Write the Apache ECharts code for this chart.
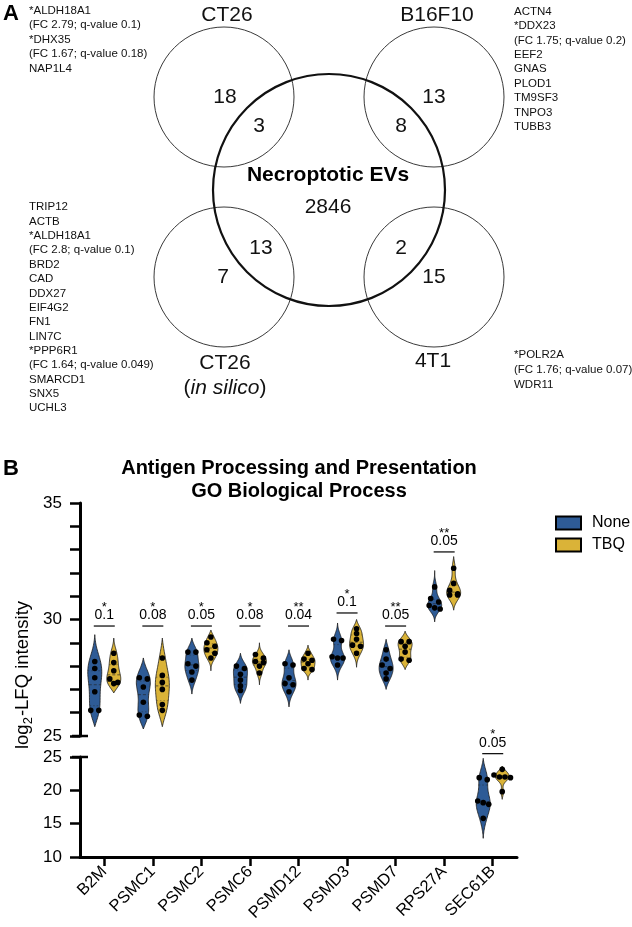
<!DOCTYPE html>
<html><head><meta charset="utf-8">
<script src="https://cdn.jsdelivr.net/npm/echarts@6/dist/echarts.min.js"></script>
<style>html,body{margin:0;padding:0;background:#fff}#c{width:632px;height:927px}</style>
</head><body><div id="c"></div>
<script>
// ---------------- Panel A data ----------------
const vennSetNames = ['CT26', 'B16F10', 'CT26', '4T1'];
const vennOnlyCounts = [18, 13, 7, 15];
const vennSharedCounts = [3, 8, 13, 2];
const vennCenterName = 'Necroptotic EVs';
const vennCenterCount = 2846;
const genesTopLeft = ['*ALDH18A1', '(FC 2.79; q-value 0.1)', '*DHX35', '(FC 1.67; q-value 0.18)', 'NAP1L4'];
const genesTopRight = ['ACTN4', '*DDX23', '(FC 1.75; q-value 0.2)', 'EEF2', 'GNAS', 'PLOD1', 'TM9SF3', 'TNPO3', 'TUBB3'];
const genesBottomLeft = ['TRIP12', 'ACTB', '*ALDH18A1', '(FC 2.8; q-value 0.1)', 'BRD2', 'CAD', 'DDX27', 'EIF4G2', 'FN1', 'LIN7C', '*PPP6R1', '(FC 1.64; q-value 0.049)', 'SMARCD1', 'SNX5', 'UCHL3'];
const genesBottomRight = ['*POLR2A', '(FC 1.76; q-value 0.07)', 'WDR11'];

// ---------------- Panel B data ----------------
const categories = ['B2M', 'PSMC1', 'PSMC2', 'PSMC6', 'PSMD12', 'PSMD3', 'PSMD7', 'RPS27A', 'SEC61B'];
const groupNames = ['None', 'TBQ'];
const noneValues = [
  [28.2, 27.9, 27.5, 26.9, 26.1, 26.1],
  [27.5, 27.45, 27.1, 26.45, 25.9, 25.85],
  [28.6, 28.6, 28.1, 28.0, 27.75, 27.4],
  [28.0, 27.9, 27.65, 27.4, 27.15, 26.95],
  [28.1, 28.05, 27.5, 27.25, 27.2, 26.9],
  [29.15, 29.1, 28.4, 28.35, 28.35, 28.05],
  [28.7, 28.3, 28.05, 27.9, 27.7, 27.45],
  [31.4, 30.9, 30.75, 30.6, 30.5, 30.45],
  [21.9, 21.6, 18.4, 18.15, 17.9, 15.8]
];
const noneExtent = [[25.4, 29.35], [25.3, 28.35], [26.8, 29.2], [26.4, 28.55], [26.25, 28.7], [27.4, 29.85], [27.0, 29.15], [29.9, 32.1], [12.8, 24.8]];
const tbqValues = [
  [28.55, 28.15, 27.8, 27.45, 27.3, 27.25],
  [28.35, 27.6, 27.3, 27.0, 26.35, 26.1],
  [29.25, 29.0, 28.85, 28.7, 28.55, 28.35],
  [28.5, 28.35, 28.2, 28.15, 28.0, 27.7],
  [28.55, 28.3, 28.25, 28.1, 27.9, 27.85],
  [29.6, 29.4, 29.15, 28.9, 28.85, 28.55],
  [29.05, 29.05, 28.85, 28.6, 28.3, 28.25],
  [32.2, 31.55, 31.25, 31.1, 31.05, 31.05],
  [23.15, 22.3, 22.0, 22.0, 21.9, 19.8]
];
const tbqExtent = [[26.85, 29.2], [25.4, 29.2], [27.8, 29.55], [27.2, 29.0], [27.4, 28.9], [27.95, 30.0], [27.85, 29.5], [30.4, 32.7], [18.65, 23.65]];
const sigStars = ['*', '*', '*', '*', '**', '*', '**', '**', '*'];
const qLabels = ['0.1', '0.08', '0.05', '0.08', '0.04', '0.1', '0.05', '0.05', '0.05'];
const bracketLevel = [29.72, 29.72, 29.72, 29.72, 29.72, 30.28, 29.72, 32.9, 25.5];
const upperTicks = [25, 30, 35];
const lowerTicks = [10, 15, 20, 25];

// ---------------- styling ----------------
const FONT = '"Liberation Sans", Arial, Helvetica, sans-serif';
const BLUE = '#2e5b96';
const GOLD = '#dab338';
const HALF = 7;      // violin max half width (px)
const DX = 9.5;      // group offset from category center (px)
const GRID_LEFT = 80, GRID_RIGHT = 115;

const chart = echarts.init(document.getElementById('c'), null, {renderer: 'canvas'});

function kde(vals, h, y) {
  let s = 0;
  for (const v of vals) { const u = (y - v) / h; s += Math.exp(-0.5 * u * u); }
  return s;
}
function bandwidth(vals) {
  const n = vals.length, m = vals.reduce((a, b) => a + b, 0) / n;
  const sd = Math.sqrt(vals.reduce((a, b) => a + (b - m) * (b - m), 0) / (n - 1));
  return Math.max(0.9 * sd * Math.pow(n, -0.2), 0.12);
}
function quantile(sorted, p) {
  const i = (sorted.length - 1) * p, lo = Math.floor(i), hi = Math.ceil(i);
  return sorted[lo] + (sorted[hi] - sorted[lo]) * (i - lo);
}
const inLower = categories.map((c, i) => Math.max(noneExtent[i][1], tbqExtent[i][1]) <= 25);

function makeViolin(vals, ext, dx, color) {
  return function (params, api) {
    const cat = api.value(0);
    const v = vals[cat], r = ext[cat];
    const cx = api.coord([cat, r[0]])[0] + dx;
    const h = bandwidth(v);
    const N = 60, dens = [];
    for (let i = 0; i <= N; i++) { const y = r[0] + (r[1] - r[0]) * i / N; dens.push([y, kde(v, h, y)]); }
    const f0 = dens[0][1], f1 = dens[N][1];
    let mx = 0;
    const w = dens.map(([y, f], i) => { const b = f0 + (f1 - f0) * i / N; const ww = Math.max(0, f - b); if (ww > mx) mx = ww; return [y, ww]; });
    const right = w.map(([y, ww]) => [cx + ww / mx * HALF, api.coord([cat, y])[1]]);
    const left = w.slice().reverse().map(([y, ww]) => [cx - ww / mx * HALF, api.coord([cat, y])[1]]);
    const children = [{
      type: 'polygon', shape: {points: right.concat(left)},
      style: {fill: color, stroke: '#1a1a1a', lineWidth: 0.8}
    }];
    const sorted = v.slice().sort((a, b) => a - b);
    function widthAt(y) {
      const t = (y - r[0]) / (r[1] - r[0]) * N; const i = Math.max(0, Math.min(N - 1, Math.floor(t)));
      const ww = w[i][1] + (w[i + 1][1] - w[i][1]) * (t - i);
      return ww / mx * HALF;
    }
    [[0.25, [1.5, 2]], [0.5, [3, 2]], [0.75, [1.5, 2]]].forEach(([p, dash]) => {
      const q = quantile(sorted, p); const py = api.coord([cat, q])[1]; const hw = widthAt(q);
      children.push({type: 'line', shape: {x1: cx - hw, y1: py, x2: cx + hw, y2: py},
        style: {stroke: '#222', lineWidth: 0.7, lineDash: dash, opacity: p === 0.5 ? 0.9 : 0.6}});
    });
    // dots: nearly equal values placed side by side
    const pys = sorted.slice().reverse().map(val => api.coord([cat, val])[1]);
    const clusters = [];
    pys.forEach(py => {
      const last = clusters[clusters.length - 1];
      if (last && py - last[0] < 3.5) last.push(py); else clusters.push([py]);
    });
    clusters.forEach(cl => {
      const k = cl.length;
      const step = k === 2 ? 8 : 5.5;
      cl.forEach((py, j) => {
        const ox = (j - (k - 1) / 2) * step;
        children.push({type: 'circle', shape: {cx: cx + ox, cy: py, r: 2.8}, style: {fill: '#000'}});
      });
    });
    return {type: 'group', children};
  };
}

function annotRender(params, api) {
  const cat = api.value(0);
  const y = bracketLevel[cat];
  const p = api.coord([cat, y]);
  const x1 = p[0] - DX - 1, x2 = p[0] + DX + 1;
  return {type: 'group', children: [
    {type: 'line', shape: {x1, y1: p[1], x2, y2: p[1]}, style: {stroke: '#000', lineWidth: 1.2}},
    {type: 'text', x: p[0], y: p[1] - 11, style: {text: qLabels[cat], font: '14px ' + FONT, fill: '#000', align: 'center', verticalAlign: 'middle'}},
    {type: 'text', x: p[0], y: p[1] - 19, style: {text: sigStars[cat], font: '13px ' + FONT, fill: '#000', align: 'center', verticalAlign: 'middle'}}
  ]};
}

function capRender(params, api) {
  const p = api.coord([0, api.value(0)]);
  const x0 = GRID_LEFT;
  return {type: 'line', shape: {x1: x0 - 8, y1: p[1], x2: x0 + 8, y2: p[1]}, style: {stroke: '#000', lineWidth: 2.5}};
}

const upperIdx = categories.map((c, i) => i).filter(i => !inLower[i]);
const lowerIdx = categories.map((c, i) => i).filter(i => inLower[i]);

const series = [];
[[0, upperIdx], [1, lowerIdx]].forEach(([g, idx]) => {
  series.push({type: 'custom', name: 'None', xAxisIndex: g, yAxisIndex: g, data: idx.map(i => [i]),
    itemStyle: {color: BLUE, borderColor: '#000', borderWidth: 1}, renderItem: makeViolin(noneValues, noneExtent, -DX, BLUE), silent: true, clip: false});
  series.push({type: 'custom', name: 'TBQ', xAxisIndex: g, yAxisIndex: g, data: idx.map(i => [i]),
    itemStyle: {color: GOLD, borderColor: '#000', borderWidth: 1}, renderItem: makeViolin(tbqValues, tbqExtent, DX, GOLD), silent: true, clip: false});
  series.push({type: 'custom', name: 'annot' + g, xAxisIndex: g, yAxisIndex: g, data: idx.map(i => [i]),
    renderItem: annotRender, silent: true, clip: false});
});
// axis-break end caps at 25 on both segments
series.push({type: 'custom', name: 'cap0', xAxisIndex: 0, yAxisIndex: 0, data: [[25]], renderItem: capRender, silent: true, clip: false});
series.push({type: 'custom', name: 'cap1', xAxisIndex: 1, yAxisIndex: 1, data: [[25]], renderItem: capRender, silent: true, clip: false});

const axisLineStyle = {color: '#000', width: 3};
const yAxisCommon = {
  type: 'value', splitLine: {show: false},
  axisLine: {show: true, lineStyle: axisLineStyle},
  axisTick: {show: true, length: 10, lineStyle: {color: '#000', width: 2.5}},
  axisLabel: {fontSize: 17, color: '#000', fontFamily: FONT, margin: 18}
};

// ---------------- Panel A graphics ----------------
const graphics = [];
const listStyle = (txt, lh) => ({text: txt.join('\n'), font: '11.5px ' + FONT, fill: '#111', lineHeight: lh, verticalAlign: 'top'});
graphics.push({type: 'text', x: 3, y: 3, style: {text: 'A', font: 'bold 22px ' + FONT, fill: '#000'}});
graphics.push({type: 'text', x: 29, y: 3.5, style: listStyle(genesTopLeft, 14.5)});
graphics.push({type: 'text', x: 514, y: 4.5, style: listStyle(genesTopRight, 14.4)});
graphics.push({type: 'text', x: 29, y: 200, style: listStyle(genesBottomLeft, 14.36)});
graphics.push({type: 'text', x: 514, y: 348, style: listStyle(genesBottomRight, 14.6)});

const smallCircles = [[224, 97], [434, 97], [224, 277], [434, 277]];
smallCircles.forEach(([cx, cy]) => graphics.push({type: 'circle', shape: {cx, cy, r: 70}, style: {fill: 'none', stroke: '#3a3a3a', lineWidth: 1}}));
graphics.push({type: 'circle', shape: {cx: 329, cy: 190, r: 116}, style: {fill: 'none', stroke: '#111', lineWidth: 2.2}});
const numFont = '21px ' + FONT;
const onlyPos = [[225, 97], [434, 97], [223, 277], [434, 277]];
const sharedPos = [[259, 126], [401, 126], [261, 248], [401, 248]];
onlyPos.forEach(([x, y], i) => graphics.push({type: 'text', x, y, style: {text: String(vennOnlyCounts[i]), font: numFont, fill: '#111', align: 'center', verticalAlign: 'middle'}}));
sharedPos.forEach(([x, y], i) => graphics.push({type: 'text', x, y, style: {text: String(vennSharedCounts[i]), font: numFont, fill: '#111', align: 'center', verticalAlign: 'middle'}}));
graphics.push({type: 'text', x: 328, y: 175, style: {text: vennCenterName, font: 'bold 21px ' + FONT, fill: '#000', align: 'center', verticalAlign: 'middle'}});
graphics.push({type: 'text', x: 328, y: 207, style: {text: String(vennCenterCount), font: numFont, fill: '#111', align: 'center', verticalAlign: 'middle'}});
const setPos = [[227, 15], [437, 15], [225, 363], [433, 361]];
setPos.forEach(([x, y], i) => graphics.push({type: 'text', x, y, style: {text: vennSetNames[i], font: numFont, fill: '#111', align: 'center', verticalAlign: 'middle'}}));
graphics.push({type: 'text', x: 225, y: 388, style: {text: '{n|(}{i|in silico}{n|)}', align: 'center', verticalAlign: 'middle',
  rich: {n: {font: numFont, fill: '#111'}, i: {font: 'italic 21px ' + FONT, fill: '#111'}}}});

// ---------------- Panel B graphics ----------------
graphics.push({type: 'text', x: 3, y: 458, style: {text: 'B', font: 'bold 22px ' + FONT, fill: '#000'}});
graphics.push({type: 'text', x: 299, y: 468, style: {text: 'Antigen Processing and Presentation', font: 'bold 20px ' + FONT, fill: '#000', align: 'center', verticalAlign: 'middle'}});
graphics.push({type: 'text', x: 299, y: 491, style: {text: 'GO Biological Process', font: 'bold 20px ' + FONT, fill: '#000', align: 'center', verticalAlign: 'middle'}});
graphics.push({type: 'text', x: 23, y: 675, rotation: Math.PI / 2, style: {
  text: '{a|log}{s|2}{a|-LFQ intensity}', align: 'center', verticalAlign: 'middle',
  rich: {a: {font: '18.5px ' + FONT, fill: '#000', lineHeight: 22}, s: {font: '13px ' + FONT, fill: '#000', lineHeight: 22, padding: [10, 1, 0, 0]}}}});

chart.setOption({
  animation: false,
  backgroundColor: '#fff',
  textStyle: {fontFamily: FONT},
  legend: {
    orient: 'vertical', left: 550, top: 510, itemWidth: 25, itemHeight: 13, itemGap: 6,
    icon: 'rect', data: groupNames, selectedMode: false,
    textStyle: {fontSize: 16, color: '#000', fontFamily: FONT, padding: [0, 0, 0, 6]}
  },
  grid: [
    {left: GRID_LEFT, right: GRID_RIGHT, top: 503, bottom: 927 - 736},
    {left: GRID_LEFT, right: GRID_RIGHT, top: 757, bottom: 927 - 857}
  ],
  xAxis: [
    {type: 'category', gridIndex: 0, data: categories, show: false},
    {type: 'category', gridIndex: 1, data: categories,
      axisLine: {show: true, lineStyle: axisLineStyle},
      axisTick: {show: true, alignWithLabel: true, length: 9, lineStyle: {color: '#000', width: 2.5}},
      axisLabel: {rotate: 45, fontSize: 16.5, color: '#000', fontFamily: FONT, margin: 12, interval: 0}}
  ],
  yAxis: [
    Object.assign({}, yAxisCommon, {gridIndex: 0, min: 25, max: 35, interval: 1,
      axisLabel: Object.assign({}, yAxisCommon.axisLabel, {formatter: v => upperTicks.includes(v) ? String(v) : ''})}),
    Object.assign({}, yAxisCommon, {gridIndex: 1, min: 10, max: 25, interval: 5,
      axisLabel: Object.assign({}, yAxisCommon.axisLabel, {formatter: v => lowerTicks.includes(v) ? String(v) : ''})})
  ],
  graphic: graphics,
  series
});
</script></body></html>
